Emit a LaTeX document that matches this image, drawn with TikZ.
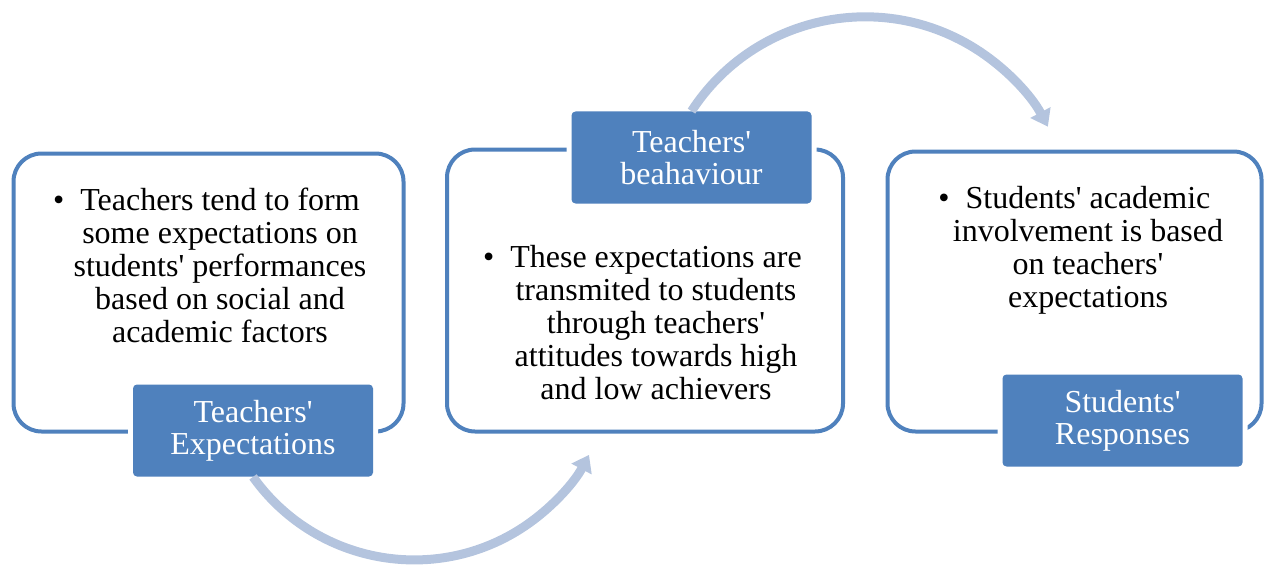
\documentclass[tikz,border=0pt]{standalone}
\usepackage{fontspec}
\newfontfamily\diagfont{Liberation Serif}
\usetikzlibrary{arrows.meta}
\definecolor{accentblue}{RGB}{79,129,189}
\definecolor{arrowblue}{RGB}{180,196,222}

\tikzset{
    stagebox/.style={draw=accentblue, line width=2pt, fill=white, rounded corners=14pt, inner sep=0pt},
    stagetag/.style={fill=accentblue, text=white, rounded corners=2pt, align=center, inner sep=0pt,
        minimum width=120pt, minimum height=46pt, preaction={draw=white, line width=5pt},
        font=\diagfont\fontsize{16}{16}\selectfont},
    stagetext/.style={align=center, anchor=north, inner sep=0pt, font=\diagfont\fontsize{16}{16.5}\selectfont},
    flow/.style={draw=arrowblue, line width=4.5pt, -{Triangle[length=8pt, width=11pt]}}
}

\begin{document}
\begin{tikzpicture}[x=0.5pt, y=-0.5pt]
            \useasboundingbox (0,0) rectangle (1268,567);
            \node[stagebox, minimum width=195pt, minimum height=139pt] (box1) at (208.5,292.5) {};
            \node[stagebox, minimum width=198pt, minimum height=141pt] (box2) at (645,290.5) {};
            \node[stagebox, minimum width=187pt, minimum height=140pt] (box3) at (1074.5,291.5) {};
            \node[stagetext] (txt1) at (220,188) {\llap{\textbullet\hspace{8pt}}Teachers tend to form\\some expectations on\\students' performances\\based on social and\\academic factors};
            \node[stagetext] (txt2) at (656,245) {\llap{\textbullet\hspace{8pt}}These expectations are\\transmited to students\\through teachers'\\attitudes towards high\\and low achievers};
            \node[stagetext] (txt3) at (1088,186) {\llap{\textbullet\hspace{8pt}}Students' academic\\involvement is based\\on teachers'\\expectations};
            \node[stagetag] (lab1) at (253,430.5) {Teachers'\\Expectations};
            \node[stagetag] (lab2) at (691.5,157.5) {Teachers'\\beahaviour};
            \node[stagetag] (lab3) at (1122.5,420.5) {Students'\\Responses};
            \draw[flow] (lab1.south) arc[start angle=144.5, end angle=28, radius=198];
            \draw[flow] (lab2.north) arc[start angle=213, end angle=332, radius=207];
\end{tikzpicture}
\end{document}
